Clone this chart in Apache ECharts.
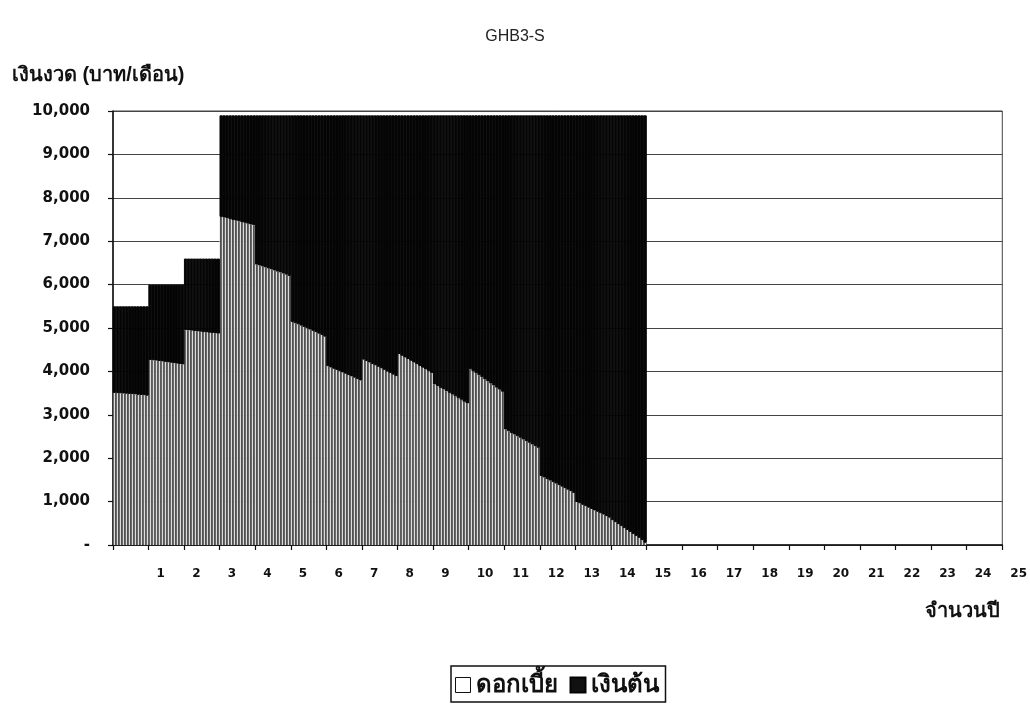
<!DOCTYPE html>
<html>
<head>
<meta charset="utf-8">
<script src="https://cdn.jsdelivr.net/npm/echarts@6/dist/echarts.min.js"></script>
<style>
  html, body { margin: 0; padding: 0; background: #fff; }
  #chart { width: 1030px; height: 710px; }
</style>
</head>
<body>
<div id="chart"></div>
<script>
// Monthly installment (baht/month) for each loan year
const installment = [5500, 6000, 6600, 9900, 9900, 9900, 9900, 9900, 9900, 9900, 9900, 9900, 9900, 9900, 9900];

// Interest part of each monthly installment, one row per year
const interest = [
  3505, 3500, 3495, 3490, 3485, 3480, 3475, 3470, 3460, 3455, 3450, 3440,
  4260, 4255, 4250, 4240, 4230, 4220, 4210, 4200, 4190, 4180, 4170, 4160,
  4950, 4945, 4940, 4930, 4920, 4915, 4905, 4900, 4890, 4885, 4875, 4870,
  7560, 7545, 7530, 7510, 7490, 7475, 7460, 7440, 7425, 7405, 7385, 7370,
  6460, 6440, 6420, 6395, 6370, 6350, 6325, 6300, 6280, 6255, 6230, 6200,
  5140, 5110, 5085, 5055, 5025, 4995, 4965, 4935, 4905, 4870, 4840, 4800,
  4120, 4090, 4060, 4035, 4005, 3975, 3945, 3915, 3885, 3855, 3820, 3790,
  4270, 4240, 4205, 4170, 4140, 4105, 4070, 4035, 4000, 3965, 3925, 3890,
  4400, 4360, 4320, 4285, 4245, 4205, 4165, 4125, 4085, 4045, 4005, 3960,
  3700, 3660, 3620, 3585, 3545, 3505, 3465, 3425, 3385, 3345, 3300, 3260,
  4050, 4005, 3960, 3910, 3865, 3815, 3770, 3720, 3675, 3625, 3580, 3530,
  2660, 2620, 2580, 2545, 2505, 2470, 2430, 2395, 2355, 2315, 2280, 2240,
  1590, 1555, 1520, 1485, 1450, 1415, 1380, 1345, 1310, 1275, 1240, 1200,
   990,  960,  925,  895,  860,  830,  795,  765,  730,  700,  665,  630,
   570,  525,  480,  435,  390,  345,  300,  255,  210,  165,  110,   50
];

const totalYears = 25;
const seriesNames = ['ดอกเบี้ย', 'เงินต้น'];
const chartTitle = 'GHB3-S';
const yAxisTitle = 'เงินงวด (บาท/เดือน)';
const xAxisTitle = 'จำนวนปี';

// Month categories 1..300 over the 25-year axis
const months = [];
for (let m = 1; m <= totalYears * 12; m++) months.push(m);

const interestData = months.map((m, i) => i < interest.length ? interest[i] : null);
const principalData = months.map((m, i) =>
  i < interest.length ? installment[Math.floor(i / 12)] - interest[i] : null);

// Vertical stripe texture for the interest bars
const stripe = document.createElement('canvas');
stripe.width = 3; stripe.height = 2;
const sc = stripe.getContext('2d');
sc.fillStyle = '#dcdcdc'; sc.fillRect(0, 0, 1, 2);
sc.fillStyle = '#505050'; sc.fillRect(1, 0, 1, 2);
sc.fillStyle = '#686868'; sc.fillRect(2, 0, 1, 2);

const numFont = 'DejaVu Sans';
const chart = echarts.init(document.getElementById('chart'));

chart.setOption({
  animation: false,
  backgroundColor: '#ffffff',
  title: [
    { text: chartTitle, left: 'center', top: 24,
      textStyle: { fontFamily: 'Liberation Sans', fontWeight: 'normal', fontSize: 16, color: '#222' } },
    { text: yAxisTitle, left: 7, top: 60,
      textStyle: { fontFamily: 'sans-serif', fontWeight: 'bold', fontSize: 20, color: '#111' } },
    { text: xAxisTitle, left: 920, top: 596,
      textStyle: { fontFamily: 'sans-serif', fontWeight: 'bold', fontSize: 20, color: '#111' } }
  ],
  legend: {
    left: 451, top: 666,
    orient: 'horizontal',
    padding: [7, 7, 5, 4],
    itemGap: 12,
    itemWidth: 15, itemHeight: 15,
    borderColor: '#111', borderWidth: 1.5,
    icon: 'rect',
    textStyle: { fontFamily: 'sans-serif', fontWeight: 'bold', fontSize: 24, color: '#111', padding: [0, 0, 0, 0] },
    data: [
      { name: seriesNames[0], itemStyle: { color: '#ffffff', borderColor: '#111', borderWidth: 1 } },
      { name: seriesNames[1], itemStyle: { color: '#111111' } }
    ]
  },
  grid: {
    left: 113, right: 27, top: 111, bottom: 165,
    show: true, borderColor: '#444', borderWidth: 1
  },
  xAxis: [
    {
      type: 'category',
      data: months,
      boundaryGap: true,
      axisLine: { show: false },
      axisTick: { show: false },
      axisLabel: { show: false },
      splitLine: { show: false }
    },
    {
      type: 'value',
      min: 0, max: totalYears, interval: 1,
      position: 'bottom',
      axisLine: { show: true, lineStyle: { color: '#111', width: 1.5 } },
      axisTick: { show: true, length: 5, lineStyle: { color: '#111', width: 1.2 } },
      axisLabel: {
        margin: 23, align: 'left', padding: [0, 0, 0, 8],
        fontFamily: numFont, fontWeight: 'bold', fontSize: 12, color: '#111',
        formatter: v => v === 0 ? '' : String(v)
      },
      splitLine: { show: false }
    }
  ],
  yAxis: {
    type: 'value',
    min: 0, max: 10000, interval: 1000,
    axisLine: { show: true, lineStyle: { color: '#111', width: 1.5 } },
    axisTick: { show: true, length: 5, lineStyle: { color: '#111', width: 1.2 } },
    axisLabel: {
      margin: 23,
      fontFamily: numFont, fontWeight: 'bold', fontSize: 15, color: '#111',
      formatter: v => v === 0 ? '-' : v.toLocaleString('en-US')
    },
    splitLine: { show: true, lineStyle: { color: '#444', width: 1.2 } }
  },
  series: [
    {
      name: seriesNames[0],
      type: 'bar',
      stack: 'pay',
      xAxisIndex: 0,
      barWidth: 3.4,
      data: interestData,
      itemStyle: { color: { image: stripe, repeat: 'repeat' } }
    },
    {
      name: seriesNames[1],
      type: 'bar',
      stack: 'pay',
      xAxisIndex: 0,
      barWidth: 4,
      data: principalData,
      itemStyle: { color: '#050505', borderColor: '#050505', borderWidth: 1 }
    }
  ]
});
</script>
</body>
</html>
